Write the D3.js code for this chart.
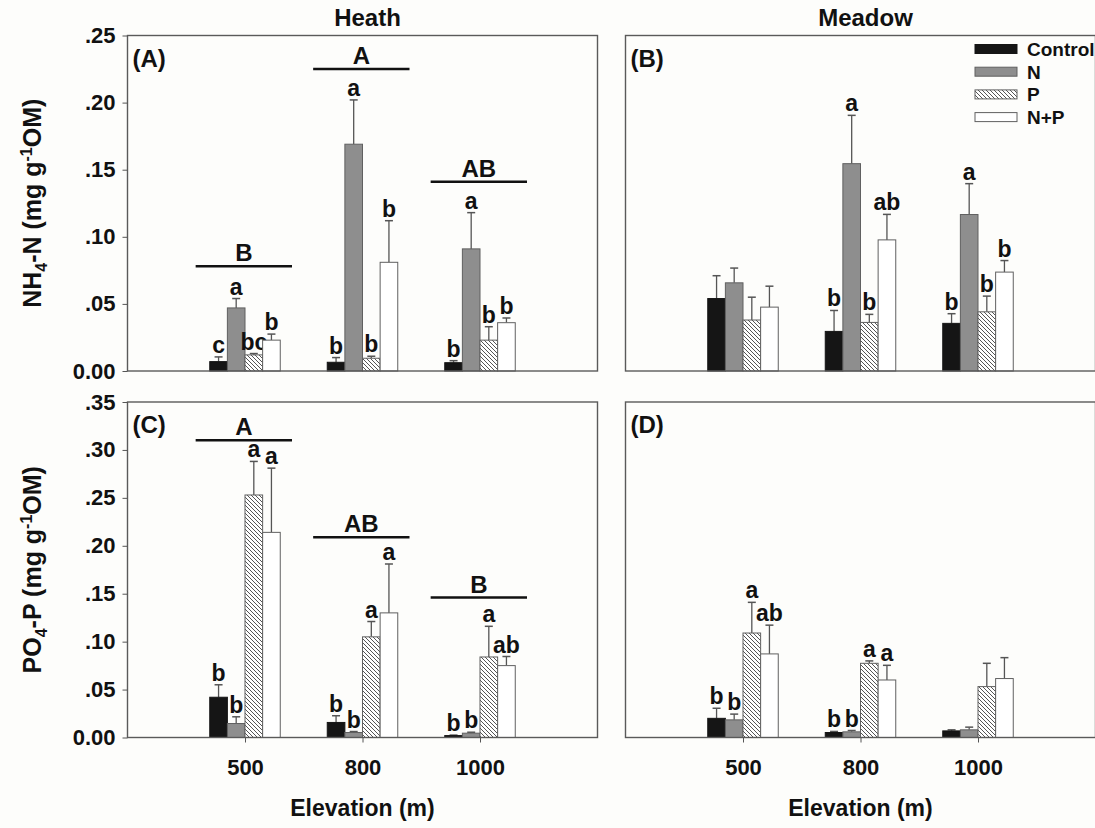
<!DOCTYPE html>
<html>
<head>
<meta charset="utf-8">
<script src="https://cdnjs.cloudflare.com/ajax/libs/d3/7.8.5/d3.min.js"></script>
<style>
  body { margin: 0; background: #fdfdfb; }
  svg { display: block; font-family: Arial, "Liberation Sans", sans-serif; font-weight: bold; }
</style>
</head>
<body>
<svg id="chart"></svg>
<script>
const elevations = ["500", "800", "1000"];
const treatments = ["Control", "N", "P", "N+P"];

// rows follow treatments, columns follow elevations
const heathNH4 = [[0.007, 0.0065, 0.0062], [0.047, 0.169, 0.091], [0.012, 0.0095, 0.023], [0.023, 0.081, 0.036]];
const heathNH4Err = [[0.0035, 0.0035, 0.0015], [0.007, 0.033, 0.027], [0.001, 0.0015, 0.010], [0.0045, 0.031, 0.0035]];
const heathNH4Letters = [["c", "b", "b"], ["a", "a", "a"], ["bc", "b", "b"], ["b", "b", "b"]];
const heathNH4Groups = ["B", "A", "AB"];
const heathNH4GroupY = [0.078, 0.225, 0.141];

const meadowNH4 = [[0.054, 0.0295, 0.0355], [0.0657, 0.1545, 0.1166], [0.038, 0.0362, 0.0441], [0.0476, 0.0977, 0.0737]];
const meadowNH4Err = [[0.017, 0.0156, 0.0072], [0.011, 0.036, 0.023], [0.017, 0.006, 0.0117], [0.0156, 0.019, 0.0086]];
const meadowNH4Letters = [["", "b", "b"], ["", "a", "a"], ["", "b", "b"], ["", "ab", "b"]];

const heathPO4 = [[0.042, 0.0157, 0.002], [0.0146, 0.0052, 0.0045], [0.253, 0.105, 0.084], [0.214, 0.130, 0.075]];
const heathPO4Err = [[0.013, 0.007, 0.0005], [0.007, 0.001, 0.001], [0.035, 0.016, 0.032], [0.067, 0.051, 0.0095]];
const heathPO4Letters = [["b", "b", "b"], ["b", "b", "b"], ["a", "a", "a"], ["a", "a", "ab"]];
const heathPO4Groups = ["A", "AB", "B"];
const heathPO4GroupY = [0.31, 0.209, 0.146];

const meadowPO4 = [[0.020, 0.0052, 0.0069], [0.0184, 0.0059, 0.008], [0.109, 0.0774, 0.0531], [0.0872, 0.060, 0.0615]];
const meadowPO4Err = [[0.0105, 0.0011, 0.0011], [0.006, 0.0014, 0.0028], [0.032, 0.0025, 0.0243], [0.030, 0.0153, 0.0218]];
const meadowPO4Letters = [["b", "b", ""], ["b", "b", ""], ["a", "a", ""], ["ab", "a", ""]];

const nh4Ticks = [0, 0.05, 0.10, 0.15, 0.20, 0.25];
const po4Ticks = [0, 0.05, 0.10, 0.15, 0.20, 0.25, 0.30, 0.35];

const width = 1095, height = 828;
const svg = d3.select('#chart').attr('width', width).attr('height', height);

// hatch for the P treatment
const defs = svg.append('defs');
const pat = defs.append('pattern')
  .attr('id', 'hatch').attr('patternUnits', 'userSpaceOnUse')
  .attr('width', 4).attr('height', 4);
pat.append('rect').attr('width', 4).attr('height', 4).attr('fill', '#fff');
pat.append('path')
  .attr('d', 'M0,0L4,4M-1,3L1,5M3,-1L5,1')
  .attr('stroke', '#555').attr('stroke-width', 1);

const fills = ['#151515', '#8e8e8e', 'url(#hatch)', '#ffffff'];
const strokes = ['#151515', '#606060', '#606060', '#606060'];

const fmt = d => d === 0 ? '0.00' : d3.format('.2f')(d).replace(/^0/, '');

const panels = [
  { left: 127.5, top: 35.5, max: 0.25, ticks: nh4Ticks, vals: heathNH4, err: heathNH4Err, letters: heathNH4Letters,
    groups: heathNH4Groups, groupY: heathNH4GroupY, tag: '(A)', yAxis: true, xAxis: false, title: 'Heath' },
  { left: 625.5, top: 35.5, max: 0.25, ticks: nh4Ticks, vals: meadowNH4, err: meadowNH4Err, letters: meadowNH4Letters,
    groups: null, tag: '(B)', yAxis: false, xAxis: false, title: 'Meadow', legend: true },
  { left: 127.5, top: 402, max: 0.35, ticks: po4Ticks, vals: heathPO4, err: heathPO4Err, letters: heathPO4Letters,
    groups: heathPO4Groups, groupY: heathPO4GroupY, tag: '(C)', yAxis: true, xAxis: true },
  { left: 625.5, top: 402, max: 0.35, ticks: po4Ticks, vals: meadowPO4, err: meadowPO4Err, letters: meadowPO4Letters,
    groups: null, tag: '(D)', yAxis: false, xAxis: true }
];
const pw = 470, ph = 335.5;

// bar offsets inside a group, in x units
const band = d3.scaleBand().domain(treatments).range([-0.3, 0.3]);

panels.forEach(p => {
  const x = d3.scaleLinear().domain([0, 4]).range([p.left, p.left + pw]);
  const y = d3.scaleLinear().domain([0, p.max]).range([p.top + ph, p.top]);
  const g = svg.append('g');

  // bars
  treatments.forEach((t, ti) => {
    elevations.forEach((e, ei) => {
      const x0 = x(ei + 1 + band(t)), x1 = x(ei + 1 + band(t) + band.bandwidth());
      const v = p.vals[ti][ei];
      const top = y(v + p.err[ti][ei]);
      const cx = (x0 + x1) / 2;
      // error bar (upper only)
      g.append('line').attr('x1', cx).attr('x2', cx).attr('y1', y(v)).attr('y2', top)
        .attr('stroke', '#555').attr('stroke-width', 1.3);
      g.append('line').attr('x1', cx - 4).attr('x2', cx + 4).attr('y1', top).attr('y2', top)
        .attr('stroke', '#555').attr('stroke-width', 1.5);
      g.append('rect')
        .attr('x', x0).attr('y', y(v)).attr('width', x1 - x0).attr('height', y(0) - y(v))
        .attr('fill', fills[ti]).attr('stroke', strokes[ti]).attr('stroke-width', 1);
      if (p.letters[ti][ei]) {
        g.append('text').attr('x', cx).attr('y', top - 4)
          .attr('text-anchor', 'middle').attr('font-size', 23).attr('fill', '#111')
          .text(p.letters[ti][ei]);
      }
    });
  });

  // elevation group brackets
  if (p.groups) {
    p.groups.forEach((lab, i) => {
      const c = i + 1;
      g.append('line').attr('x1', x(c - 0.42)).attr('x2', x(c + 0.4))
        .attr('y1', y(p.groupY[i])).attr('y2', y(p.groupY[i]))
        .attr('stroke', '#111').attr('stroke-width', 2.5);
      g.append('text').attr('x', x(c - 0.01)).attr('y', y(p.groupY[i]) - 5)
        .attr('text-anchor', 'middle').attr('font-size', 24).attr('fill', '#111').text(lab);
    });
  }

  // frame
  g.append('rect').attr('x', p.left).attr('y', p.top).attr('width', pw).attr('height', ph)
    .attr('fill', 'none').attr('stroke', '#5a5a5a').attr('stroke-width', 1.4);

  if (p.yAxis) {
    const ax = g.append('g').attr('transform', `translate(${p.left},0)`)
      .call(d3.axisLeft(y).tickValues(p.ticks).tickFormat(fmt).tickSize(5).tickSizeOuter(0).tickPadding(7));
    ax.select('.domain').remove();
    ax.selectAll('line').attr('stroke', '#555');
    ax.selectAll('text').attr('font-size', 22).attr('fill', '#111').attr('font-family', null);
  }
  if (p.xAxis) {
    const ax = g.append('g').attr('transform', `translate(0,${p.top + ph})`)
      .call(d3.axisBottom(x).tickValues([1, 2, 3]).tickFormat((d, i) => elevations[i]).tickSize(5).tickPadding(17));
    ax.select('.domain').remove();
    ax.selectAll('line').attr('stroke', '#555');
    ax.selectAll('text').attr('font-size', 22).attr('fill', '#111').attr('font-family', null);
    g.append('text').attr('x', x(2)).attr('y', 816).attr('text-anchor', 'middle')
      .attr('font-size', 23).attr('fill', '#111').text('Elevation (m)');
  }

  g.append('text').attr('x', p.left + 5).attr('y', p.top + 31)
    .attr('font-size', 24).attr('fill', '#111').text(p.tag);

  if (p.title) {
    g.append('text').attr('x', p.left + pw / 2 + 5).attr('y', 26).attr('text-anchor', 'middle')
      .attr('font-size', 24).attr('fill', '#111').text(p.title);
  }

  if (p.legend) {
    treatments.forEach((t, i) => {
      const ly = 49 + i * 22.7;
      g.append('rect').attr('x', 975).attr('y', ly - 4.5).attr('width', 42).attr('height', 9)
        .attr('fill', fills[i]).attr('stroke', strokes[i]).attr('stroke-width', 1);
      g.append('text').attr('x', 1027).attr('y', ly + 7).attr('font-size', 19).attr('fill', '#111').text(t);
    });
  }
});

// y axis titles with sub/superscripts
function yTitle(cy, parts) {
  const t = svg.append('text')
    .attr('transform', `translate(41,${cy}) rotate(-90)`)
    .attr('text-anchor', 'middle').attr('font-size', 25).attr('fill', '#111');
  parts.forEach(([s, kind]) => {
    const ts = t.append('tspan').text(s);
    if (kind === 'sub') ts.attr('font-size', 16).attr('dy', 6);
    if (kind === 'sup') ts.attr('font-size', 16).attr('dy', -9);
    if (kind === 'afterSub') ts.attr('dy', -6);
    if (kind === 'afterSup') ts.attr('dy', 9);
  });
}
yTitle(35.5 + ph / 2, [['NH'], ['4', 'sub'], ['-N (mg g', 'afterSub'], ['-1', 'sup'], ['OM)', 'afterSup']]);
yTitle(402 + ph / 2, [['PO'], ['4', 'sub'], ['-P (mg g', 'afterSub'], ['-1', 'sup'], ['OM)', 'afterSup']]);
</script>
</body>
</html>
